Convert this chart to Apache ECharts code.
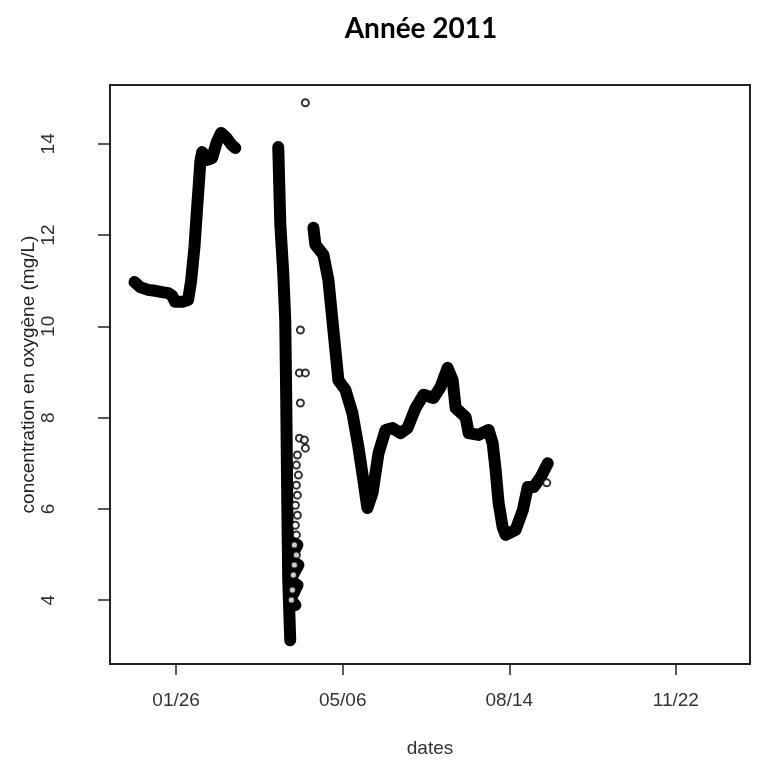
<!DOCTYPE html>
<html>
<head>
<meta charset="utf-8">
<script src="https://cdn.jsdelivr.net/npm/echarts@6/dist/echarts.min.js"></script>
<style>html,body{margin:0;padding:0;background:#fff}#c{width:758px;height:763px}</style>
</head>
<body>
<div id="c"></div>
<script>
// x values are day-of-year 2011 (Jan 1 = 1)
const tickDays = [26, 126, 226, 326];
const tickLabels = ['01/26', '05/06', '08/14', '11/22'];
const yTicks = [4, 6, 8, 10, 12, 14];

// Winter segment
const seg1Days = [1, 4.4, 9.2, 13.4, 17.6, 21.2, 23.6, 25.4, 26.6, 30.2, 33.2, 35, 37, 38.6, 39.8, 40.5, 41.6, 44.6, 47.6, 50.4, 53, 56.3, 59.3, 61.5];
const seg1Vals = [10.97, 10.86, 10.80, 10.78, 10.75, 10.73, 10.67, 10.54, 10.50, 10.54, 10.58, 11.0, 11.74, 12.6, 13.21, 13.6, 13.82, 13.65, 13.69, 14.04, 14.24, 14.13, 13.98, 13.91];

// Steep drop at end of March
const seg2Days = [87.3, 88.5, 90.3, 91.5, 92.1, 92.7, 93.3, 94.5];
const seg2Vals = [13.93, 12.27, 11.17, 10.14, 8.39, 6.19, 4.44, 3.12];

// Dense block of overlapping points
const denseDays = [93.3, 98.8, 93.9, 99.4, 94.5, 98.8, 94.5, 97.6];
const denseVals = [5.30, 5.21, 4.88, 4.77, 4.44, 4.33, 4.0, 3.89];

// Spring / summer segment
const seg3Days = [108.4, 109.6, 114.4, 117.4, 120.4, 123.4, 127.6, 131.8, 135.4, 138.4, 140.8, 143.9, 147.5, 151.7, 155.9, 160.7, 164.9, 169.7, 174.5, 180.5, 184.7, 189.0, 192.0, 193.8, 199.8, 201.6, 207.6, 213.6, 216.0, 217.8, 219.6, 222.0, 223.8, 229.8, 234.1, 237.1, 240.7, 244.9, 249.1];
const seg3Vals = [12.16, 11.79, 11.57, 11.02, 9.92, 8.82, 8.61, 8.10, 7.36, 6.63, 6.02, 6.35, 7.22, 7.73, 7.77, 7.66, 7.77, 8.21, 8.50, 8.43, 8.67, 9.09, 8.82, 8.21, 8.01, 7.66, 7.62, 7.73, 7.44, 6.85, 6.13, 5.60, 5.43, 5.54, 5.97, 6.48, 6.48, 6.70, 7.00];

// Isolated points (open circles)
const ptDays = [103.6, 100.6, 100.0, 103.6, 100.6, 100.0, 103.0, 103.6, 98.8, 98.2, 99.4, 98.2, 98.8, 97.6, 98.8, 97.6, 98.2, 97.0, 98.2, 97.0, 96.4, 95.8, 95.2, 248.5];
const ptVals = [14.90, 9.92, 8.98, 8.98, 8.32, 7.55, 7.51, 7.33, 7.18, 6.96, 6.74, 6.52, 6.30, 6.08, 5.86, 5.64, 5.43, 5.21, 4.99, 4.77, 4.55, 4.22, 4.0, 6.57];

const zip = (a, b) => a.map((d, i) => [d, b[i]]);

const lineSeries = (data) => ({
  type: 'line', data, symbol: 'none', showSymbol: false, silent: true,
  lineStyle: { color: '#000', width: 12, cap: 'round', join: 'round' },
  z: 2
});

const chart = echarts.init(document.getElementById('c'), null, { renderer: 'canvas' });
chart.setOption({
  animation: false,
  backgroundColor: '#fff',
  title: {
    text: 'Année 2011', left: 416, top: 10, textAlign: 'center',
    textStyle: { fontFamily: 'Lato', fontWeight: 'bold', fontSize: 28, color: '#000' }
  },
  grid: { left: 110, right: 8, top: 85, bottom: 99, show: true, borderColor: '#222', borderWidth: 2, backgroundColor: 'transparent' },
  xAxis: {
    type: 'value', min: -13.7, max: 370.5,
    name: 'dates', nameLocation: 'middle', nameGap: 75, nameMoveOverlap: false,
    nameTextStyle: { fontFamily: 'Liberation Sans', fontSize: 19, color: '#333' },
    axisLine: { show: true, onZero: false, lineStyle: { color: '#222', width: 2 } },
    axisTick: { show: true, customValues: tickDays, length: 11, lineStyle: { color: '#222', width: 1.5 } },
    axisLabel: {
      customValues: tickDays, margin: 27,
      formatter: (v) => tickLabels[tickDays.indexOf(v)] || '',
      fontFamily: 'Liberation Sans', fontSize: 19, color: '#333'
    },
    splitLine: { show: false }
  },
  yAxis: {
    type: 'value', min: 2.6, max: 15.29,
    name: 'concentration en oxygène (mg/L)', nameLocation: 'middle', nameRotate: 90, nameGap: 72, nameMoveOverlap: false,
    nameTextStyle: { fontFamily: 'Liberation Sans', fontSize: 19, color: '#222' },
    axisLine: { show: true, onZero: false, lineStyle: { color: '#222', width: 2 } },
    axisTick: { show: true, customValues: yTicks, length: 12, lineStyle: { color: '#222', width: 1.5 } },
    axisLabel: {
      customValues: yTicks, rotate: 90, margin: 52,
      fontFamily: 'Liberation Sans', fontSize: 19, color: '#333'
    },
    splitLine: { show: false }
  },
  series: [
    lineSeries(zip(seg1Days, seg1Vals)),
    lineSeries(zip(seg2Days, seg2Vals)),
    lineSeries(zip(denseDays, denseVals)),
    lineSeries(zip(seg3Days, seg3Vals)),
    {
      type: 'scatter', data: zip(ptDays, ptVals), symbol: 'emptyCircle', symbolSize: 7,
      itemStyle: { color: '#000', borderColor: '#000', borderWidth: 1.3 }, z: 3, silent: true
    }
  ]
});
</script>
</body>
</html>
